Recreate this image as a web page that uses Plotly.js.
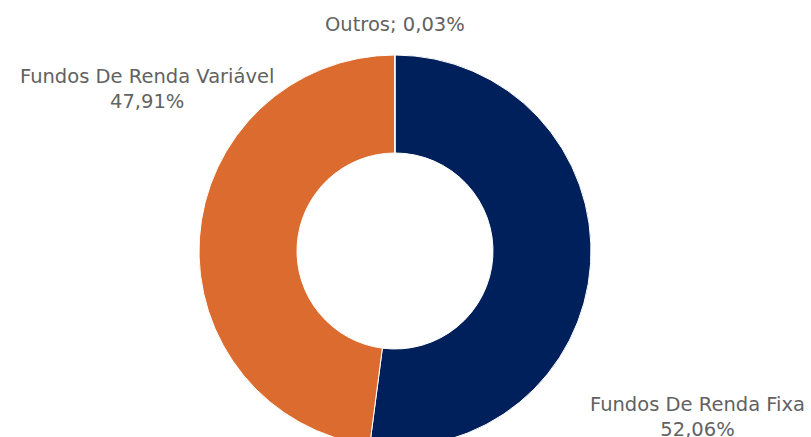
<!DOCTYPE html>
<html><head><meta charset="utf-8">
<script src="https://cdn.plot.ly/plotly-3.0.1.min.js"></script>
<style>html,body{margin:0;padding:0;overflow:hidden;background:#fff}</style>
</head><body>
<div id="chart" style="width:811px;height:447px"></div>
<script>
const labels = ["Fundos De Renda Fixa", "Fundos De Renda Variável", "Outros"];
const values = [52.06, 47.91, 0.03];
const colors = ["#00205B", "#DC6B2F", "#A5A5A5"];

const W = 811, H = 447;
function fmt(v){ return v.toFixed(2).replace('.', ',') + '%'; }
function px(x){ return x / W; }
function py(y){ return 1 - y / H; }

const labelPos = [
  {x: 697, y: 417, text: labels[0] + '<br>' + fmt(values[0])},
  {x: 147, y: 89, text: labels[1] + '<br>' + fmt(values[1])},
  {x: 395, y: 24, text: labels[2] + '; ' + fmt(values[2])}
];

const font = {family: 'DejaVu Sans, Verdana, sans-serif', size: 19.5, color: '#626262'};

const data = [{
  type: 'pie',
  labels: labels,
  values: values,
  hole: 0.5,
  sort: false,
  direction: 'clockwise',
  rotation: 0,
  textinfo: 'none',
  hoverinfo: 'label+percent',
  marker: {colors: colors, line: {color: '#ffffff', width: 1}},
  domain: {x: [199/W, 591/W], y: [0, py(55)]},
  showlegend: false
}];

const layout = {
  width: W, height: H,
  margin: {l: 0, r: 0, t: 0, b: 0},
  paper_bgcolor: '#ffffff',
  showlegend: false,
  annotations: labelPos.map(p => ({
    xref: 'paper', yref: 'paper', x: px(p.x), y: py(p.y),
    xanchor: 'center', yanchor: 'middle', text: p.text,
    showarrow: false, font: font, align: 'center'
  }))
};

Plotly.newPlot('chart', data, layout, {displayModeBar: false, staticPlot: true});
</script>
</body></html>
